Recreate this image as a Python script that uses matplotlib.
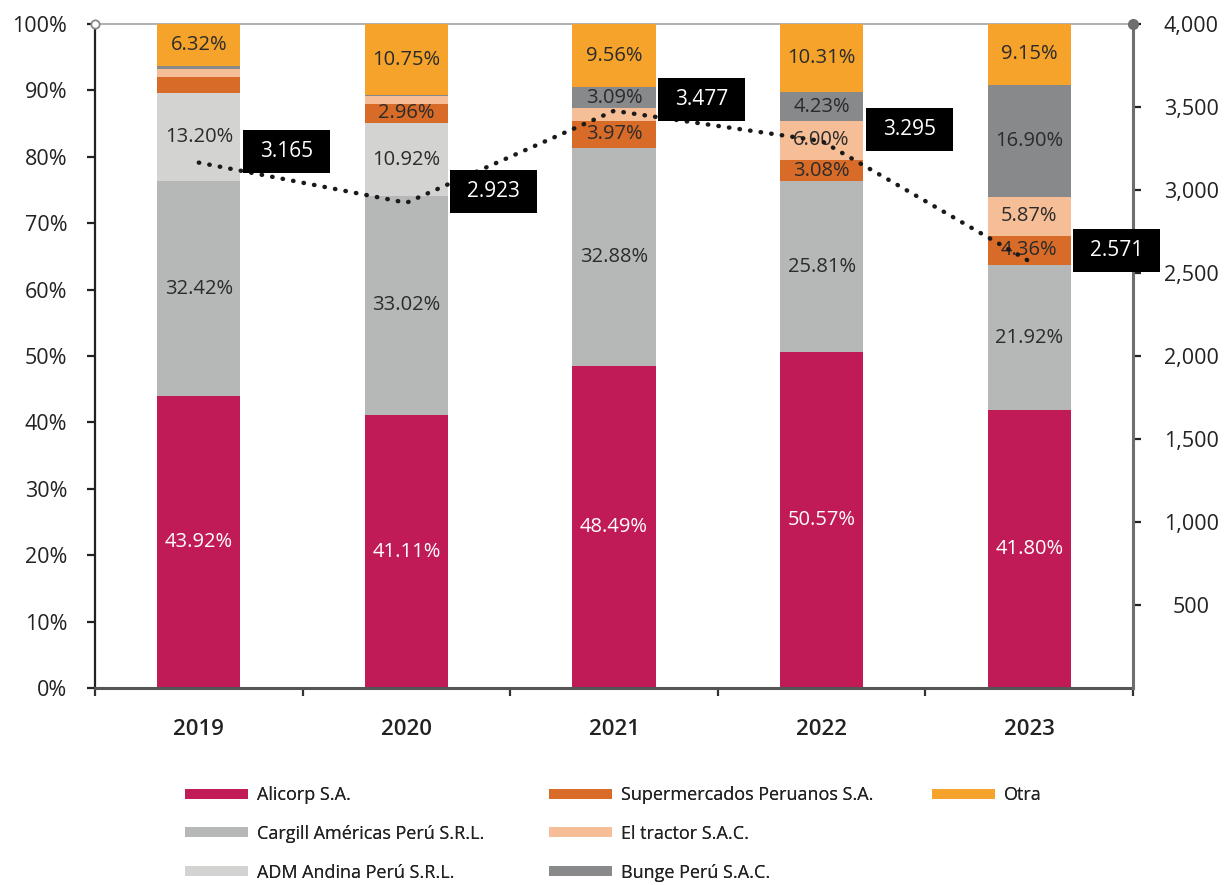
import matplotlib
matplotlib.use("Agg")
import matplotlib.pyplot as plt
import numpy as np
from matplotlib.lines import Line2D
from matplotlib.offsetbox import DrawingArea, AnnotationBbox
from matplotlib.patches import Rectangle
from matplotlib.text import Text
from matplotlib.ticker import FixedLocator

# ---------------- data ----------------
years = ["2019", "2020", "2021", "2022", "2023"]
companies = ["Alicorp S.A.", "Cargill Américas Perú S.R.L.", "ADM Andina Perú S.R.L.",
             "Supermercados Peruanos S.A.", "El tractor S.A.C.", "Bunge Perú S.A.C.", "Otra"]
alicorp = [43.92, 41.11, 48.49, 50.57, 41.80]
cargill = [32.42, 33.02, 32.88, 25.81, 21.92]
adm = [13.20, 10.92, 0.01, 0.0, 0.0]
supermercados = [2.55, 2.96, 3.97, 3.08, 4.36]
el_tractor = [1.10, 1.10, 2.00, 6.00, 5.87]
bunge = [0.49, 0.14, 3.09, 4.23, 16.90]
otra = [6.32, 10.75, 9.56, 10.31, 9.15]
totals = [3165, 2923, 3477, 3295, 2571]
total_labels = ["3.165", "2.923", "3.477", "3.295", "2.571"]
left_ticks = [0, 10, 20, 30, 40, 50, 60, 70, 80, 90, 100]
right_ticks = [500, 1000, 1500, 2000, 2500, 3000, 3500, 4000]

series = [alicorp, cargill, adm, supermercados, el_tractor, bunge, otra]
colors = ["#C11B57", "#B6B8B7", "#D3D3D2", "#D86B28", "#F6BE97", "#87898A", "#F5A32A"]
label_colors = ["white", "#2b2b2b", "#2b2b2b", "#2b2b2b", "#2b2b2b", "#2b2b2b", "#2b2b2b"]

TICK_FONT = "Open Sans"
LEG_FONT = "Open Sans"

fig = plt.figure(figsize=(12.29, 8.85), dpi=100)
ax = fig.add_axes([95 / 1229, 1 - 688 / 885, (1133 - 95) / 1229, (688 - 24) / 885])

x = np.arange(len(years))
bottom = np.zeros(len(years))
width = 0.40
for s, c, lc in zip(series, colors, label_colors):
    vals = np.array(s)
    ax.bar(x, vals, width, bottom=bottom, color=c, edgecolor="none", zorder=2)
    for xi, v, b in zip(x, vals, bottom):
        if v >= 2.9:
            ax.text(xi, b + v / 2, f"{v:.2f}%", ha="center", va="center",
                    color=lc, fontsize=14.5, family=TICK_FONT, zorder=4)
    bottom += vals

ax.set_xlim(-0.5, len(years) - 0.5)
ax.set_ylim(0, 100)
ax.yaxis.set_major_locator(FixedLocator(left_ticks))
ax.set_yticklabels([f"{t}%" for t in left_ticks], family=TICK_FONT, fontsize=15.5, color="#222222")
ax.tick_params(axis="y", length=6, width=1.6, color="#222222", pad=14, direction="out")
ax.set_xticks(x)
ax.set_xticklabels(years, family=TICK_FONT, fontsize=16, fontweight="semibold", color="#222222")
ax.tick_params(axis="x", length=0, pad=22)
ax.set_xticks(np.arange(-0.5, len(years), 1.0), minor=True)
ax.tick_params(axis="x", which="minor", length=6, width=1.6, color="#333333", direction="out", pad=0)

for sp in ["top", "right"]:
    ax.spines[sp].set_visible(False)
ax.spines["left"].set_color("#222222")
ax.spines["left"].set_linewidth(1.6)
ax.spines["bottom"].set_color("#555555")
ax.spines["bottom"].set_linewidth(2.2)
ax.axhline(100, color="#aaaaaa", lw=1.3, zorder=1, clip_on=False)
ax.plot([-0.5], [100], marker="o", ms=6, mfc="white", mec="#888888", mew=1.3, clip_on=False, zorder=6)

# secondary axis
ax2 = ax.twinx()
ax2.set_ylim(0, 4000)
ax2.set_xlim(-0.5, len(years) - 0.5)
for sp in ["top", "left", "bottom"]:
    ax2.spines[sp].set_visible(False)
ax2.spines["right"].set_color("#6e6e6e")
ax2.spines["right"].set_linewidth(2.2)
ax2.yaxis.set_major_locator(FixedLocator(right_ticks))
ax2.set_yticklabels([f"{t:,}" for t in right_ticks], family=TICK_FONT, fontsize=15.5, color="#222222",
                    ha="center")
ax2.tick_params(axis="y", length=6, width=1.6, color="#222222", pad=36, direction="out")
ax2.plot([len(years) - 0.5], [4000], marker="o", ms=7, color="#6e6e6e", clip_on=False, zorder=6)

ax2.plot(x, totals, linestyle=(0, (0.1, 2.3)), dash_capstyle="round", lw=3.2, color="#1a1a1a", zorder=5)

for xi, v, lab in zip(x, totals, total_labels):
    w, h = 62.5, 31.0
    da = DrawingArea(w, h, 0, 0)
    da.add_artist(Rectangle((0, 0), w, h, facecolor="black", edgecolor="none"))
    da.add_artist(Text(w / 2, h / 2, lab, ha="center", va="center", color="white",
                       fontsize=15, family=TICK_FONT))
    ab = AnnotationBbox(da, (xi, v), xybox=(63, 8), xycoords="data", boxcoords="offset points",
                        frameon=False, box_alignment=(0.5, 0.5), pad=0, zorder=7)
    ax2.add_artist(ab)

# legend: three columns placed to match the reference
handles = [Line2D([], [], color=c, lw=7, solid_capstyle="butt") for c in colors]
groups = [(0, 3, 185), (3, 6, 549), (6, 7, 932)]
for i0, i1, xpix in groups:
    leg = fig.legend(handles[i0:i1], companies[i0:i1], loc="upper left",
                     bbox_to_anchor=(xpix / 1229, 1 - 786 / 885), borderaxespad=0, borderpad=0,
                     ncol=1, frameon=False, handlelength=3.5, handletextpad=0.5,
                     labelspacing=1.15, prop={"family": LEG_FONT, "size": 13})
    for t in leg.get_texts():
        t.set_color("#222222")
    fig.add_artist(leg)

fig.savefig("out.png", dpi=100)
